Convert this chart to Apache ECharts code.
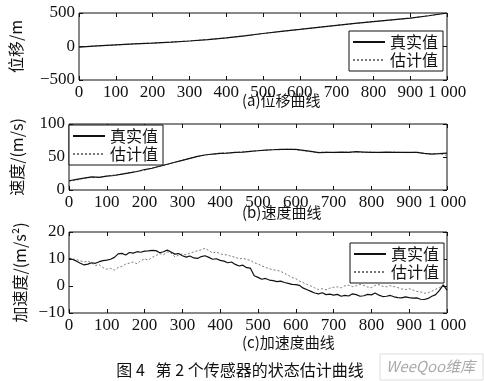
<!DOCTYPE html>
<html><head><meta charset="utf-8">
<script src="https://cdn.jsdelivr.net/npm/echarts@6/dist/echarts.min.js"></script>
<style>html,body{margin:0;padding:0;background:#fff}#c{width:484px;height:381px}</style>
</head><body><div id="c"></div>
<script>
// ---- data ----
const seriesNames = ['真实值', '估计值'];
const xTicks = [0,100,200,300,400,500,600,700,800,900,1000];
const xTickLabels = ['0','100','200','300','400','500','600','700','800','900','1 000'];
const posStep = 50;
const posTrue = [-8,8,24,38,50,65,82,103,128,160,194,225,255,286,316,345,372,398,423,459,500];
const posEst  = [-6,9,23,39,52,64,84,104,127,161,193,226,256,285,317,344,373,397,424,458,498];
const velStep = 20;
const velTrue = [14,16,18,20,19,21,22,24,26,28,31,33,36,39,42,45,48,51,53,54.5,55.5,56,57,57.5,58.5,59.5,60.5,61,61.5,61.5,61.5,60,58.5,56.5,57,57,57.5,57,58,57.5,57,57,57.5,57,57,57,57,55.5,54.5,55,56];
const velEst  = [13,15,18,19,19.5,21,23,24,26.5,28,30,33.5,36,38.5,42,45.5,48,50.5,53.5,54,56,56.5,57,58,58.5,60,60,61.5,61,62,61,59.5,58,57,57.5,56.5,57,57.5,57.5,57,57.5,56.5,57,57.5,57,56.5,57.5,55,55,55.5,52];
const accStep = 10;
const accTrue = [10.2,9.8,9.2,8.4,7.8,8.1,8.6,8.4,9.0,9.4,9.6,9.9,10.6,11.9,12.1,11.5,12.4,12.2,12.7,12.5,12.9,13.0,13.2,13.1,12.3,12.7,13.3,12.6,11.8,12.0,11.2,10.7,11.1,10.4,10.2,10.9,11.2,10.6,9.9,10.1,9.5,9.2,8.6,8.9,8.0,7.4,7.7,6.8,6.6,3.8,3.2,2.5,2.8,2.2,2.0,1.6,1.8,1.3,1.0,0.6,0.5,0.2,-0.8,-1.4,-2.0,-2.6,-2.9,-2.5,-3.2,-3.0,-3.4,-3.1,-3.8,-3.5,-3.7,-2.9,-3.2,-3.8,-3.6,-3.1,-3.3,-2.6,-3.4,-3.9,-3.8,-3.5,-4.0,-4.3,-4.4,-4.0,-4.3,-4.5,-4.4,-4.9,-5.0,-4.6,-3.8,-3.2,-1.6,0.4,-1.5];
const accEst  = [10.4,10.0,9.8,9.3,8.9,9.2,8.5,7.6,7.9,6.8,6.2,6.5,5.9,6.8,7.3,8.1,8.5,8.9,8.2,9.4,10.0,9.6,10.6,11.3,12.0,11.6,12.6,12.2,10.8,11.4,11.9,11.5,12.2,12.6,13.1,13.4,14.0,13.1,12.2,12.6,11.9,11.6,11.5,10.9,10.7,10.0,10.3,9.8,9.5,8.6,8.2,7.5,6.9,6.4,6.0,5.8,5.4,4.7,4.0,3.1,2.7,1.8,1.2,0.6,0.0,-0.7,-1.3,-1.0,-1.4,-0.8,-0.5,-0.3,-0.7,0.1,0.3,-0.2,0.1,0.6,0.2,-0.4,-0.6,0.2,0.5,-0.1,-0.3,0.1,-0.2,-0.6,-1.1,-1.3,-1.0,-1.5,-2.0,-2.2,-2.7,-2.5,-1.9,-1.2,-0.6,0.2,0.4];
const yTicksA = [-500,0,500];
const yTicksB = [0,50,100];
const yTicksC = [-10,0,10,20];
const yNames = ['位移/m', '速度/(m/s)', '加速度/(m/s²)'];
const captions = ['(a)位移曲线', '(b)速度曲线', '(c)加速度曲线'];
const figCaption = '图 4   第 2 个传感器的状态估计曲线';
const watermark = 'WeeQoo维库';

// ---- build ----
const pairs = (arr, step) => arr.map((v, i) => [i * step, v]);
const serif = 'Liberation Serif';
const cjk = 'Noto Sans CJK SC';
const ink = '#111';
const grids = [
  {left: 69, width: 378, top: 13, height: 67},
  {left: 69, width: 378, top: 124, height: 66},
  {left: 69, width: 378, top: 232, height: 81}
].map(g => Object.assign({show: true, borderColor: ink, borderWidth: 1, backgroundColor: 'transparent'}, g));

const xAxes = [], yAxes = [];
const yCfg = [
  {ticks: yTicksA, gap: 55},
  {ticks: yTicksB, gap: 44},
  {ticks: yTicksC, gap: 41}
];
const lblRich = {s: {fontFamily: serif, fontSize: 17, color: ink}};
for (let g = 0; g < 3; g++) {
  xAxes.push({type: 'value', gridIndex: g, min: 0, max: 1000, interval: 100, position: 'bottom',
    axisLine: {show: false, onZero: false}, splitLine: {show: false},
    axisTick: {inside: true, length: 4, lineStyle: {color: ink}},
    axisLabel: {margin: 4, color: ink, fontFamily: serif, fontSize: 17, rich: lblRich,
      formatter: v => '{s|' + xTickLabels[xTicks.indexOf(v)] + '}'}});
  xAxes.push({type: 'value', gridIndex: g, min: 0, max: 1000, interval: 100, position: 'top',
    axisLine: {show: false, onZero: false}, splitLine: {show: false}, axisLabel: {show: false},
    axisTick: {inside: true, length: 4, lineStyle: {color: ink}}});
  const t = yCfg[g].ticks;
  const iv = t[1] - t[0];
  yAxes.push({type: 'value', gridIndex: g, min: t[0], max: t[t.length - 1], interval: iv, position: 'left',
    name: yNames[g], nameLocation: 'middle', nameGap: yCfg[g].gap,
    nameTextStyle: {color: ink, fontFamily: cjk, fontSize: 16},
    axisLine: {show: false, onZero: false}, splitLine: {show: false},
    axisTick: {inside: true, length: 4, lineStyle: {color: ink}},
    axisLabel: {margin: 4, color: ink, fontFamily: serif, fontSize: 17, rich: lblRich,
      formatter: v => '{s|' + String(v).replace('-', '−') + '}'}});
  yAxes.push({type: 'value', gridIndex: g, min: t[0], max: t[t.length - 1], interval: iv, position: 'right',
    axisLine: {show: false, onZero: false}, splitLine: {show: false}, axisLabel: {show: false},
    axisTick: {inside: true, length: 4, lineStyle: {color: ink}}});
}

const datasets = [[posTrue, posEst, posStep], [velTrue, velEst, velStep], [accTrue, accEst, accStep]];
const series = [];
datasets.forEach((d, g) => {
  series.push({name: seriesNames[0], type: 'line', xAxisIndex: g * 2, yAxisIndex: g * 2, symbol: 'none',
    data: pairs(d[0], d[2]), lineStyle: {color: ink, width: 1.2}, itemStyle: {color: ink}, z: 3, silent: true});
  series.push({name: seriesNames[1], type: 'line', xAxisIndex: g * 2, yAxisIndex: g * 2, symbol: 'none',
    data: pairs(d[1], d[2]), lineStyle: {color: '#777', width: 1, type: [2, 2]}, itemStyle: {color: '#777'}, z: 2, silent: true});
});

const legendBase = {orient: 'vertical', data: seriesNames, itemWidth: 32, itemHeight: 10, itemGap: 2,
  padding: [3, 5, 3, 3], borderColor: ink, borderWidth: 1, backgroundColor: '#fff',
  itemStyle: {opacity: 0, borderWidth: 0},
  textStyle: {color: ink, fontFamily: cjk, fontSize: 16}, selectedMode: false};
const legends = [
  Object.assign({}, legendBase, {left: 349, top: 31}),
  Object.assign({}, legendBase, {left: 69, top: 125}),
  Object.assign({}, legendBase, {left: 350, top: 243})
];

const capY = [93, 205, 335];
const graphic = captions.map((c, i) => ({type: 'text', left: 242, top: capY[i],
  style: {text: c, fill: ink, font: '15px "Noto Sans CJK SC"', textAlign: 'center'}}));
graphic.push({type: 'text', x: 240, y: 362, style: {text: figCaption, fill: ink, font: '16px "Noto Sans CJK SC"', textAlign: 'center'}});
graphic.push({type: 'rect', shape: {x: 380, y: 354, width: 103, height: 26}, style: {fill: '#fff', stroke: '#ddd', lineWidth: 1}});
graphic.push({type: 'text', x: 386, y: 359, style: {text: watermark, fill: '#aaa', font: 'italic 15px "Noto Sans CJK SC"'}});

const chart = echarts.init(document.getElementById('c'), null, {renderer: 'canvas'});
chart.setOption({
  animation: false,
  backgroundColor: '#fff',
  textStyle: {fontFamily: serif},
  grid: grids, xAxis: xAxes, yAxis: yAxes, series: series, legend: legends, graphic: graphic
});
</script></body></html>
